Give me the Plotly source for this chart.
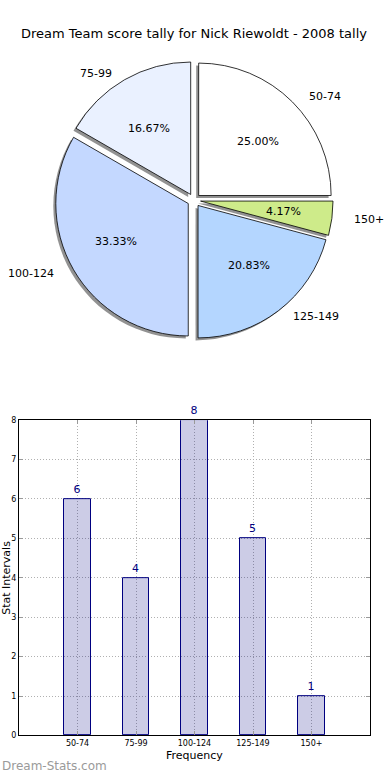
import math
import plotly.graph_objects as go

# ---- data ----
categories = ["50-74", "75-99", "100-124", "125-149", "150+"]
counts = [6, 4, 8, 5, 1]
pie_colors = ["#FFFFFF", "#EAF1FF", "#C4D8FF", "#B4D6FF", "#CEEB8A"]
title_text = "Dream Team score tally for Nick Riewoldt - 2008 tally"
y_ticks = [0, 1, 2, 3, 4, 5, 6, 7, 8]

# ---- layout helpers (pixels) ----
W, H = 390, 780
FONT = "DejaVu Sans"
cx, cy = 194, 198.5
R = 134
pull = 0.05
half = R * (1 + pull)
rx_lab, ry_lab = 139, 129


def fx(x):
    return x / W


def fy(y):
    return 1 - y / H


dom_main = dict(x=[fx(cx - half), fx(cx + half)], y=[fy(cy + half), fy(cy - half)])
sh = 2.5
dom_shadow = dict(x=[fx(cx - half - sh), fx(cx + half - sh)],
                  y=[fy(cy + half + sh), fy(cy - half + sh)])

fig = go.Figure()

# shadow pie
fig.add_trace(go.Pie(
    labels=categories, values=counts, sort=False, direction="counterclockwise",
    rotation=0, pull=[pull] * len(counts), domain=dom_shadow,
    marker=dict(colors=["rgba(110,110,110,0.75)"] * len(counts), line=dict(width=0)),
    textinfo="none", hoverinfo="skip", showlegend=False,
))
# main pie
fig.add_trace(go.Pie(
    labels=categories, values=counts, sort=False, direction="counterclockwise",
    rotation=0, pull=[pull] * len(counts), domain=dom_main,
    marker=dict(colors=pie_colors, line=dict(color="black", width=0.8)),
    textinfo="none", showlegend=False,
))

# pie labels and percentages (matplotlib-like placement)
total = sum(counts)
annotations = []
start = 0.0
for lab, v in zip(categories, counts):
    frac = v / total
    mid = (start + frac / 2) * 2 * math.pi
    start += frac
    c, s = math.cos(mid), math.sin(mid)
    ox, oy = pull * rx_lab * c, pull * ry_lab * s
    px_ = cx + ox + 0.6 * rx_lab * c
    py_ = cy - oy - 0.6 * ry_lab * s
    annotations.append(dict(x=fx(px_), y=fy(py_), xref="paper", yref="paper",
                            text=f"{frac * 100:.2f}%", showarrow=False,
                            xanchor="center", yanchor="middle",
                            font=dict(family=FONT, size=11, color="black")))
    lx = cx + ox + 1.1 * rx_lab * c
    ly = cy - oy - 1.1 * ry_lab * s
    annotations.append(dict(x=fx(lx), y=fy(ly), xref="paper", yref="paper",
                            text=lab, showarrow=False,
                            xanchor="left" if c > 0 else "right", yanchor="middle",
                            font=dict(family=FONT, size=11, color="black")))

# bar chart
fig.add_trace(go.Bar(
    x=categories, y=counts, width=0.45,
    marker=dict(color="rgba(0,0,128,0.2)", line=dict(color="#000080", width=1)),
    text=[str(v) for v in counts], textposition="outside", cliponaxis=False,
    textfont=dict(family=FONT, size=11, color="#000080"),
    showlegend=False, xaxis="x", yaxis="y",
))

ax_left, ax_right, ax_top, ax_bottom = 19, 370, 421, 740

annotations += [
    dict(x=fx(cx), y=fy(30), xref="paper", yref="paper",
         text=title_text, showarrow=False, xanchor="center", yanchor="middle",
         font=dict(family=FONT, size=13, color="black")),
    dict(x=fx((ax_left + ax_right) / 2), y=fy(760), xref="paper", yref="paper",
         text="Frequency", showarrow=False, xanchor="center", yanchor="middle",
         font=dict(family=FONT, size=11, color="black")),
    dict(x=fx(7), y=fy((ax_top + ax_bottom) / 2), xref="paper", yref="paper",
         text="Stat Intervals", showarrow=False, textangle=-90,
         xanchor="center", yanchor="middle",
         font=dict(family=FONT, size=11, color="black")),
    dict(x=0, y=fy(771), xref="paper", yref="paper",
         text="Dream-Stats.com", showarrow=False, xanchor="left", yanchor="middle",
         font=dict(family=FONT, size=12, color="#9a9a9a")),
]

grid_common = dict(showline=True, mirror="ticks", linecolor="black", linewidth=1,
                   showgrid=True, gridcolor="#b0b0b0", griddash="1px,2px", gridwidth=1,
                   ticks="inside", ticklen=4, tickcolor="#999999",
                   tickfont=dict(family=FONT, size=8, color="black"), zeroline=False,
                   fixedrange=True)

fig.update_layout(
    width=W, height=H, margin=dict(l=0, r=0, t=0, b=0),
    paper_bgcolor="white", plot_bgcolor="white",
    xaxis=dict(domain=[fx(ax_left), fx(ax_right)], range=[-1, 5], type="category",
               **grid_common),
    yaxis=dict(domain=[fy(ax_bottom), fy(ax_top)], range=[0, 8], tickvals=y_ticks,
               **grid_common),
    annotations=annotations,
    bargap=0,
)

fig.write_html(
    "out.html",
    config={"displayModeBar": False},
    post_script="document.body.style.margin='0';document.documentElement.style.overflow='hidden';",
)
